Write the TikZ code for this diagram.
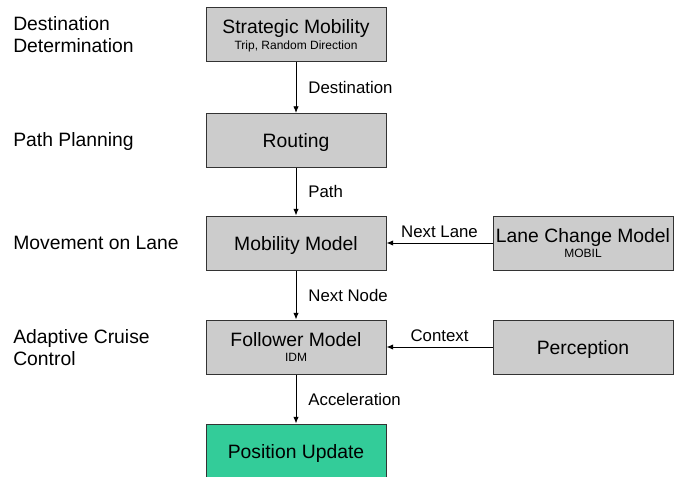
\documentclass[tikz,border=0pt]{standalone}
\usepackage{fontspec}
\setmainfont{Liberation Sans}
\usetikzlibrary{positioning,arrows.meta}
\definecolor{updategreen}{RGB}{51,204,153}

\begin{document}
\begin{tikzpicture}[
    x=0.75pt, y=-0.75pt,
    block/.style={draw=black!80, line width=0.75pt, rectangle, minimum width=135pt, minimum height=40.5pt, fill=black!20, align=center, inner sep=0pt, text depth=0pt, font=\fontsize{14.5}{11.5}\selectfont},
    flow/.style={-{Latex[length=5pt,width=4pt]}, line width=0.6pt},
    lbl/.style={font=\fontsize{12.6}{14}\selectfont, inner sep=0pt},
    stage/.style={anchor=west, align=left, inner sep=0pt, font=\fontsize{14.5}{16.5}\selectfont}
]
    \useasboundingbox (0,0) rectangle (691,477);

    % Blocks, centre column
    \node [block] (strategic) at (296,34.5) {Strategic Mobility\\{\fontsize{9}{11.5}\selectfont Trip, Random Direction}};
    \node [block] (routing) at (296,140.5) {Routing};
    \node [block] (mobility) at (296,243) {Mobility Model};
    \node [block] (follower) at (296,347) {Follower Model\\{\fontsize{9}{11.5}\selectfont IDM}};
    \node [block, fill=updategreen] (update) at (296,451) {Position Update};

    % Blocks, right column
    \node [block] (lanechange) at (583,243) {Lane Change Model\\{\fontsize{9}{11.5}\selectfont MOBIL}};
    \node [block] (perception) at (583,347) {Perception};

    % Stages
    \node [stage] (s1) at (13,34.5) {Destination\\Determination};
    \node [stage] (s2) at (13,142) {Path Planning};
    \node [stage] (s3) at (13,243) {Movement on Lane};
    \node [stage] (s4) at (13,347.5) {Adaptive Cruise\\Control};

    % Connectors
    \draw [flow] (strategic) -- node [lbl, right=9pt] {Destination} (routing);
    \draw [flow] (routing) -- node [lbl, right=9pt] {Path} (mobility);
    \draw [flow] (mobility) -- node [lbl, right=9pt] {Next Node} (follower);
    \draw [flow] (follower) -- node [lbl, right=9pt] {Acceleration} (update);
    \draw [flow] (lanechange) -- node [lbl, above=3.5pt] {Next Lane} (mobility);
    \draw [flow] (perception) -- node [lbl, above=3.5pt] {Context} (follower);
\end{tikzpicture}
\end{document}
